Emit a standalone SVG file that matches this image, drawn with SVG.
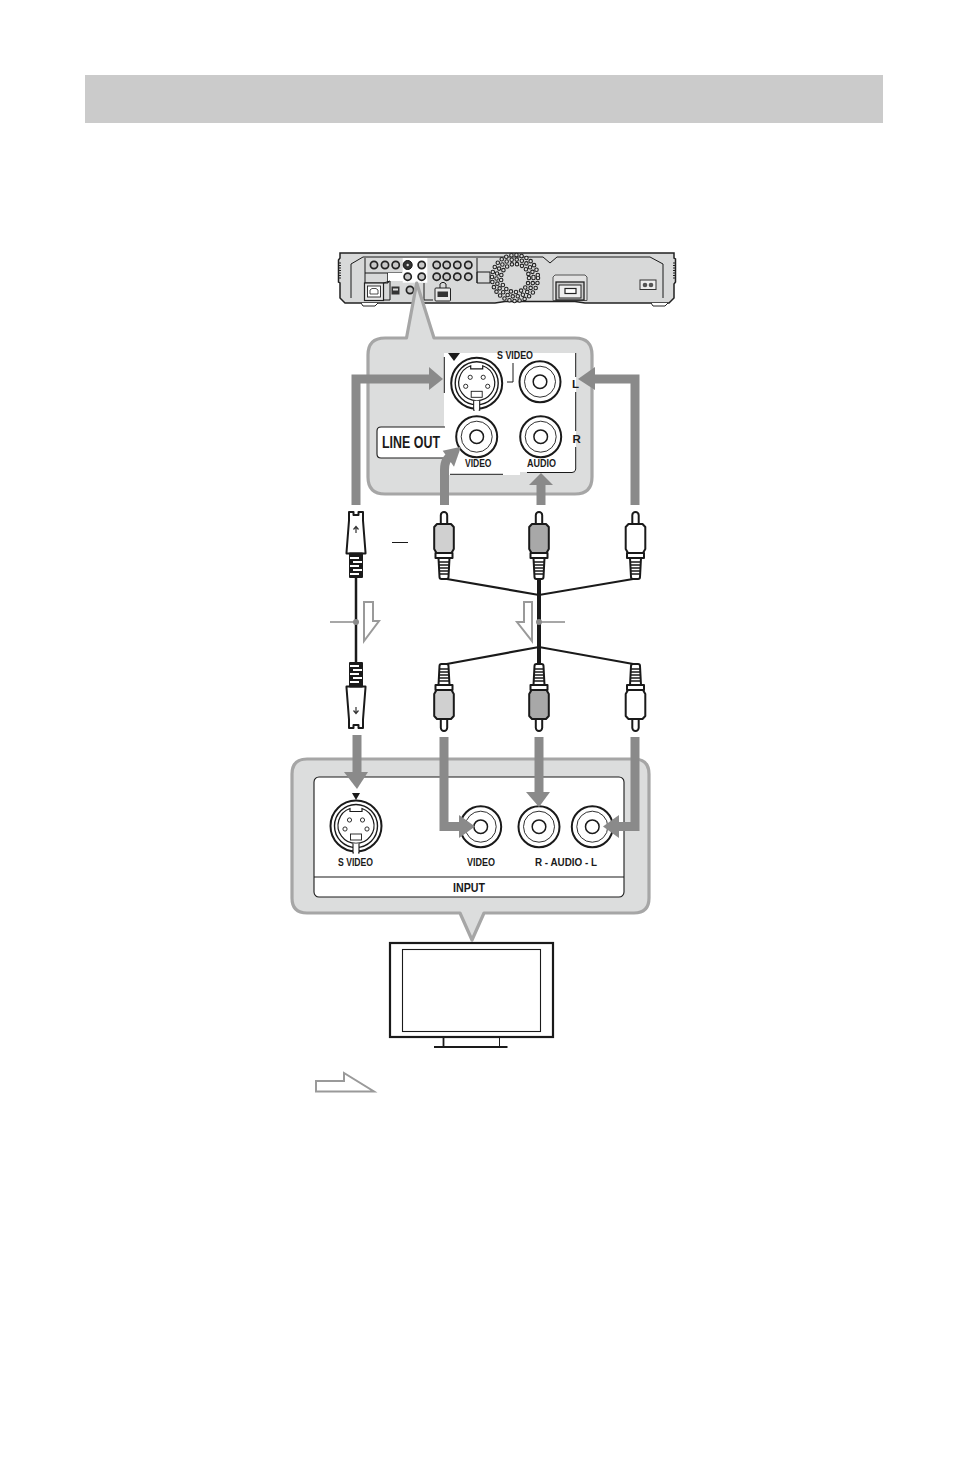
<svg xmlns="http://www.w3.org/2000/svg" xmlns:xlink="http://www.w3.org/1999/xlink" width="954" height="1482" viewBox="0 0 954 1482">
<style>
.ln{fill:none;stroke:#1a1a1a;stroke-width:1}
.bal{fill:#dcdddd;stroke:#a6a6a6;stroke-width:3.2;stroke-linejoin:round}
.t{font-family:"Liberation Sans Narrow","Liberation Sans",sans-serif;font-weight:700;fill:#1a1a1a}
.pl{stroke:#1a1a1a;stroke-width:2;stroke-linejoin:round}
.arr{fill:none;stroke:#8a8a8a;stroke-width:9}
.head{fill:#8a8a8a}
.hollow{fill:#fff;stroke:#9a9a9a;stroke-width:2}
.lead{stroke:#8a8a8a;stroke-width:1.5;fill:none}
.wire{stroke:#1a1a1a;fill:none}
.dj{fill:#c8c8c8;stroke:#222;stroke-width:1.700}
</style>
<defs>
<g id="rca">
<path class="pl" fill="#fff" d="M-3.2 12V3.2a3.2 3.2 0 0 1 6.4 0V12"/>
<path class="pl" d="M-7 12H7L9.8 15V37L7.5 41H-7.5L-9.8 37V15Z"/>
<path class="pl" d="M-8.500 41H8.500V46H-8.5Z" fill="#fff"/>
<path class="pl" fill="#fff" d="M-5.500 46H5.500L4.500 65a2 2 0 0 1-2 2H-2.500a2 2 0 0 1-2-2Z"/>
<path d="M-5 50H5M-5 53H5M-5 56H5M-5 59H5M-5 62H5" stroke="#1a1a1a" stroke-width="1.500"/>
</g>
<g id="splug">
<path class="pl" fill="#fff" d="M-7 0H-2.500V3H2.500V0H7V8.500L9.500 40.500V41.500H-9.500V40.500L-7 8.500Z"/>
<path class="pl" fill="#1a1a1a" d="M-6 41.500H6V65H-6Z"/>
<path d="M-6 46H3M-3 50H6M-6 54H3M-3 58H6M-6 62H3" stroke="#fff" stroke-width="1.800"/>
<path d="M0 14.500V21M-2.500 17.500L0 14.500L2.500 17.500" stroke="#333" stroke-width="1.200" fill="none"/>
</g>
<g id="jack">
<circle r="20.500" fill="#fff" stroke="#1a1a1a" stroke-width="2"/>
<circle r="15.500" fill="none" stroke="#1a1a1a" stroke-width=".9"/>
<circle r="6.800" fill="#fff" stroke="#1a1a1a" stroke-width="1.500"/>
</g>
<g id="sjack">
<circle r="25.500" fill="#fff" stroke="#1a1a1a" stroke-width="2"/>
<circle r="21.500" fill="none" stroke="#1a1a1a" stroke-width="1.400"/>
<path fill="#fff" stroke="#1a1a1a" stroke-width="1.200" d="M-6 -17.500L-6 -14.500H6L6 -17.500A18 18 0 1 1 -6 -17.500Z"/>
<circle cx="-6.500" cy="-6" r="2.100" fill="#fff" stroke="#1a1a1a" stroke-width=".9"/>
<circle cx="6.500" cy="-6" r="2.100" fill="#fff" stroke="#1a1a1a" stroke-width=".9"/>
<circle cx="-11" cy="3" r="2.100" fill="#fff" stroke="#1a1a1a" stroke-width=".9"/>
<circle cx="11" cy="3" r="2.100" fill="#fff" stroke="#1a1a1a" stroke-width=".9"/>
<rect x="-5.500" y="8" width="11" height="6" fill="#fff" stroke="#1a1a1a" stroke-width=".9"/>
<path d="M-3 17.500V27H3V17.500" fill="#fff" stroke="#1a1a1a" stroke-width="1.100"/>
<path d="M-2 18H2V28H-2Z" fill="#fff"/>
</g>
<circle id="dj" r="3.600" class="dj"/>
</defs>

<rect width="954" height="1482" fill="#fff"/>
<rect id="title-bar" x="85" y="75" width="798" height="48" fill="#cbcbcb"/>

<g id="recorder">
<path d="M340 253H674V258L675.500 259V282L674 284V298L669 303H585L575 301.500H505L495 303H345L340 298V283L338.500 282V260L340 258Z" fill="#d8d9d9" stroke="#222" stroke-width="1.500"/>
<path d="M651 303L653 306H665L668 303M361 303L363 306H375L378 303" fill="#fff" stroke="#222" stroke-width="1"/>
<path class="ln" d="M351 264L363 257H543L550 263L557 257H650L663 264M351 264V298M663 264V298" stroke-width=".8"/>
<path d="M339 263H341M339 265.500H341M339 268H341M339 270.500H341M339 273H341M339 275.500H341M339 278H341M673 263H675M673 265.500H675M673 268H675M673 270.500H675M673 273H675M673 275.500H675M673 278H675" stroke="#222" stroke-width="1"/>
<path class="ln" d="M365 258V273H388V283M365 273V283H388M388 283V273H402M477 258V283M477 272V283H490V272H477" stroke-width=".7"/>
<rect x="388" y="273" width="15" height="8" fill="#fff"/>
<rect x="402.700" y="258" width="24.600" height="24.700" fill="#fff"/>
<use xlink:href="#dj" href="#dj" x="374" y="265"/>
<use xlink:href="#dj" href="#dj" x="385" y="265"/>
<use xlink:href="#dj" href="#dj" x="395.700" y="265"/>
<circle cx="407.700" cy="265" r="4.500" fill="#333" stroke="#111"/>
<circle cx="407.700" cy="265" r="1.200" fill="#ddd"/>
<use xlink:href="#dj" href="#dj" x="421.700" y="265"/>
<use xlink:href="#dj" href="#dj" x="436.700" y="265"/>
<use xlink:href="#dj" href="#dj" x="446.700" y="265"/>
<use xlink:href="#dj" href="#dj" x="457.300" y="265"/>
<use xlink:href="#dj" href="#dj" x="468.300" y="265"/>
<use xlink:href="#dj" href="#dj" x="407.700" y="276.700"/>
<use xlink:href="#dj" href="#dj" x="421.700" y="276.700"/>
<use xlink:href="#dj" href="#dj" x="436.700" y="276.700"/>
<use xlink:href="#dj" href="#dj" x="446.700" y="276.700"/>
<use xlink:href="#dj" href="#dj" x="457.300" y="276.700"/>
<use xlink:href="#dj" href="#dj" x="468.300" y="276.700"/>
<rect x="364.500" y="283" width="19" height="17.500" fill="#e8e8e8" stroke="#222" stroke-width="1.200"/>
<rect x="367.500" y="286" width="13" height="11" fill="#fff" stroke="#222" stroke-width=".9"/>
<path d="M370 294V290L372 288.500H376L378 290V294Z" fill="none" stroke="#222" stroke-width=".8"/>
<path class="ln" d="M383.500 283L390 281V300H383.500" stroke-width=".7"/>
<rect x="391.500" y="286.500" width="8" height="8" fill="#333"/>
<rect x="393" y="288.500" width="5" height="2" fill="#ddd"/>
<use xlink:href="#dj" href="#dj" x="410" y="290"/>
<path class="ln" d="M424 283V300H433" stroke-width=".7"/>
<rect x="435" y="288" width="15.500" height="13" rx="1" fill="#e8e8e8" stroke="#222" stroke-width="1"/>
<rect x="437.500" y="291.500" width="10.500" height="5.500" fill="#333"/>
<path class="ln" d="M440 288V284L442 282.500H444L446 284V288" stroke-width=".8"/>
<g id="fan">
<g fill="none" stroke-linecap="round" stroke-dasharray="0 5.200">
<circle cx="515" cy="278" r="14" stroke="#222" stroke-width="4.600"/>
<circle cx="515" cy="278" r="14" stroke="#ddd" stroke-width="2.400"/>
<circle cx="515" cy="278" r="18.500" stroke="#222" stroke-width="4.600"/>
<circle cx="515" cy="278" r="18.500" stroke="#ddd" stroke-width="2.400"/>
<circle cx="515" cy="278" r="23" stroke="#222" stroke-width="4.600"/>
<circle cx="515" cy="278" r="23" stroke="#ddd" stroke-width="2.400"/>
</g>
</g>
<path d="M553 300.500V277L555 275H585L587 277V300.500Z" fill="#e2e2e2" stroke="#444" stroke-width=".9"/>
<rect x="556" y="282" width="28" height="18" fill="#ccc" stroke="#222" stroke-width="1.300"/>
<rect x="559" y="285" width="22" height="13" fill="#eee" stroke="#222" stroke-width="1"/>
<rect x="565" y="288.500" width="11" height="5" fill="#fff" stroke="#222" stroke-width="1.200"/>
<rect x="640" y="280" width="16" height="9.500" fill="#eee" stroke="#333" stroke-width="1"/>
<circle cx="645" cy="285" r="2.300" fill="#555"/>
<circle cx="651" cy="285" r="2.300" fill="#555"/>
</g>

<g id="recorder-callout">
<path class="bal" d="M385 338H406.500L416.700 283L434 338H575Q592 338 592 355V477Q592 494 575 494H385Q368 494 368 477V355Q368 338 385 338Z"/>
<path d="M444 353H576V472L520 472V475H444Z" fill="#fff"/>
<path d="M575.700 353V377M575.700 392V431M575.700 447V469Q575.700 472.500 572 472.500H527" class="ln" stroke-width="1.100"/>
<path d="M444.300 357V393M513 363V382H507M450 474.300H503" class="ln" stroke-width="1.100"/>
<path d="M448 353H460L454 361Z" fill="#1a1a1a"/>
<use xlink:href="#sjack" href="#sjack" x="476.700" y="383.300"/>
<use xlink:href="#jack" href="#jack" x="540" y="381.700"/>
<use xlink:href="#jack" href="#jack" x="476.700" y="436.700"/>
<use xlink:href="#jack" href="#jack" x="540.700" y="436.700"/>
<path d="M445 427H381Q377 427 377 431V454Q377 458 381 458H445" fill="#fff" stroke="#1a1a1a" stroke-width="1.100"/>
<text class="t" x="382" y="448" font-size="16" textLength="58" lengthAdjust="spacingAndGlyphs">LINE OUT</text>
<text class="t" x="497" y="359" font-size="11" textLength="36" lengthAdjust="spacingAndGlyphs">S VIDEO</text>
<text class="t" x="465" y="467" font-size="11" textLength="26.500" lengthAdjust="spacingAndGlyphs">VIDEO</text>
<text class="t" x="527" y="467" font-size="11" textLength="29" lengthAdjust="spacingAndGlyphs">AUDIO</text>
<text class="t" x="572" y="388" font-size="11.500">L</text>
<text class="t" x="572.500" y="443" font-size="11.500">R</text>
</g>

<g id="input-callout">
<path class="bal" d="M307 759H634Q649 759 649 774V898Q649 913 634 913H484L472 940L460 913H307Q292 913 292 898V774Q292 759 307 759Z"/>
<rect x="314" y="777" width="310" height="120" rx="5" fill="#fff" stroke="#1a1a1a" stroke-width="1.100"/>
<path d="M314 877H624" stroke="#1a1a1a" stroke-width="1.100"/>
<path d="M352 793H360L356 800Z" fill="#1a1a1a"/>
<use xlink:href="#sjack" href="#sjack" x="356" y="826"/>
<use xlink:href="#jack" href="#jack" x="480.700" y="826.700"/>
<use xlink:href="#jack" href="#jack" x="539" y="826.700"/>
<use xlink:href="#jack" href="#jack" x="592.300" y="826.700"/>
<text class="t" x="338" y="866" font-size="11.500" textLength="35" lengthAdjust="spacingAndGlyphs">S VIDEO</text>
<text class="t" x="467" y="866" font-size="11.500" textLength="28" lengthAdjust="spacingAndGlyphs">VIDEO</text>
<text class="t" x="535" y="866" font-size="11.500" textLength="62" lengthAdjust="spacingAndGlyphs">R - AUDIO - L</text>
<text class="t" x="453" y="892" font-size="13" textLength="32" lengthAdjust="spacingAndGlyphs">INPUT</text>
</g>

<g id="tv">
<rect x="390" y="943" width="163" height="94" fill="#fff" stroke="#1a1a1a" stroke-width="2.200"/>
<rect x="402.500" y="949.500" width="138" height="82" fill="#fff" stroke="#1a1a1a" stroke-width="1.100"/>
<path d="M443.500 1037V1046" stroke="#1a1a1a" stroke-width="1.800"/>
<path d="M499.500 1037V1046" stroke="#1a1a1a" stroke-width="1"/>
<path d="M434 1047H507.500" stroke="#1a1a1a" stroke-width="1.800"/>
</g>

<g id="connectors">
<path class="wire" stroke-width="2.500" d="M356 577V663"/>
<path class="wire" stroke-width="4" d="M539 579V664"/>
<path class="wire" stroke-width="2.200" d="M444 578.500L539 595L636 578.500M444 664.500L539 647L636 664.500"/>
<path class="arr" d="M356 505V379H430"/>
<path class="head" d="M429 367L443 379L429 390Z"/>
<path class="arr" d="M635 505V379H594"/>
<path class="head" d="M595 367L578 379L595 390Z"/>
<path class="arr" d="M444.500 505V470Q444.500 458 452 456"/>
<path class="head" d="M442.700 450.700L461 446.700L454 466.700Z"/>
<path class="arr" d="M541 505V484"/>
<path class="head" d="M529 485H553L541 473Z"/>
<path class="arr" d="M357 735V773"/>
<path class="head" d="M344 772H368L357 789Z"/>
<path class="arr" d="M444 737V826.500H460"/>
<path class="head" d="M459 815L475 826.500L459 838Z"/>
<path class="arr" d="M539 737V793"/>
<path class="head" d="M526 792H550L539 807Z"/>
<path class="arr" d="M635 737V826.500H618"/>
<path class="head" d="M619 815L603 826.500L619 838Z"/>
<path class="hollow" d="M364 602H373V621H379L364 641Z"/>
<path class="hollow" d="M532 602H524V622H517L532 641Z"/>
<path class="lead" d="M330 622H356M539 622H565"/>
<circle cx="356" cy="622" r="3" fill="#8a8a8a"/>
<circle cx="539" cy="622" r="3" fill="#8a8a8a"/>
<path d="M392 542.500H408" stroke="#1a1a1a" stroke-width="1"/>
<path class="hollow" d="M316 1081H344V1073L374 1091.500H316Z"/>
</g>

<g id="plug-s-top"><use xlink:href="#splug" href="#splug" x="356" y="512"/></g>
<g id="plug-video-top" fill="#d0d0d0"><use xlink:href="#rca" href="#rca" x="444" y="512"/></g>
<g id="plug-r-top" fill="#a8a8a8"><use xlink:href="#rca" href="#rca" x="539" y="512"/></g>
<g id="plug-l-top" fill="#fff"><use xlink:href="#rca" href="#rca" x="635.500" y="512"/></g>
<g id="plug-s-bottom"><use xlink:href="#splug" href="#splug" transform="translate(356 728) scale(1 -1)"/></g>
<g id="plug-video-bottom" fill="#d0d0d0"><use xlink:href="#rca" href="#rca" transform="translate(444 731) scale(1 -1)"/></g>
<g id="plug-r-bottom" fill="#a8a8a8"><use xlink:href="#rca" href="#rca" transform="translate(539 731) scale(1 -1)"/></g>
<g id="plug-l-bottom" fill="#fff"><use xlink:href="#rca" href="#rca" transform="translate(635.500 731) scale(1 -1)"/></g>
</svg>
